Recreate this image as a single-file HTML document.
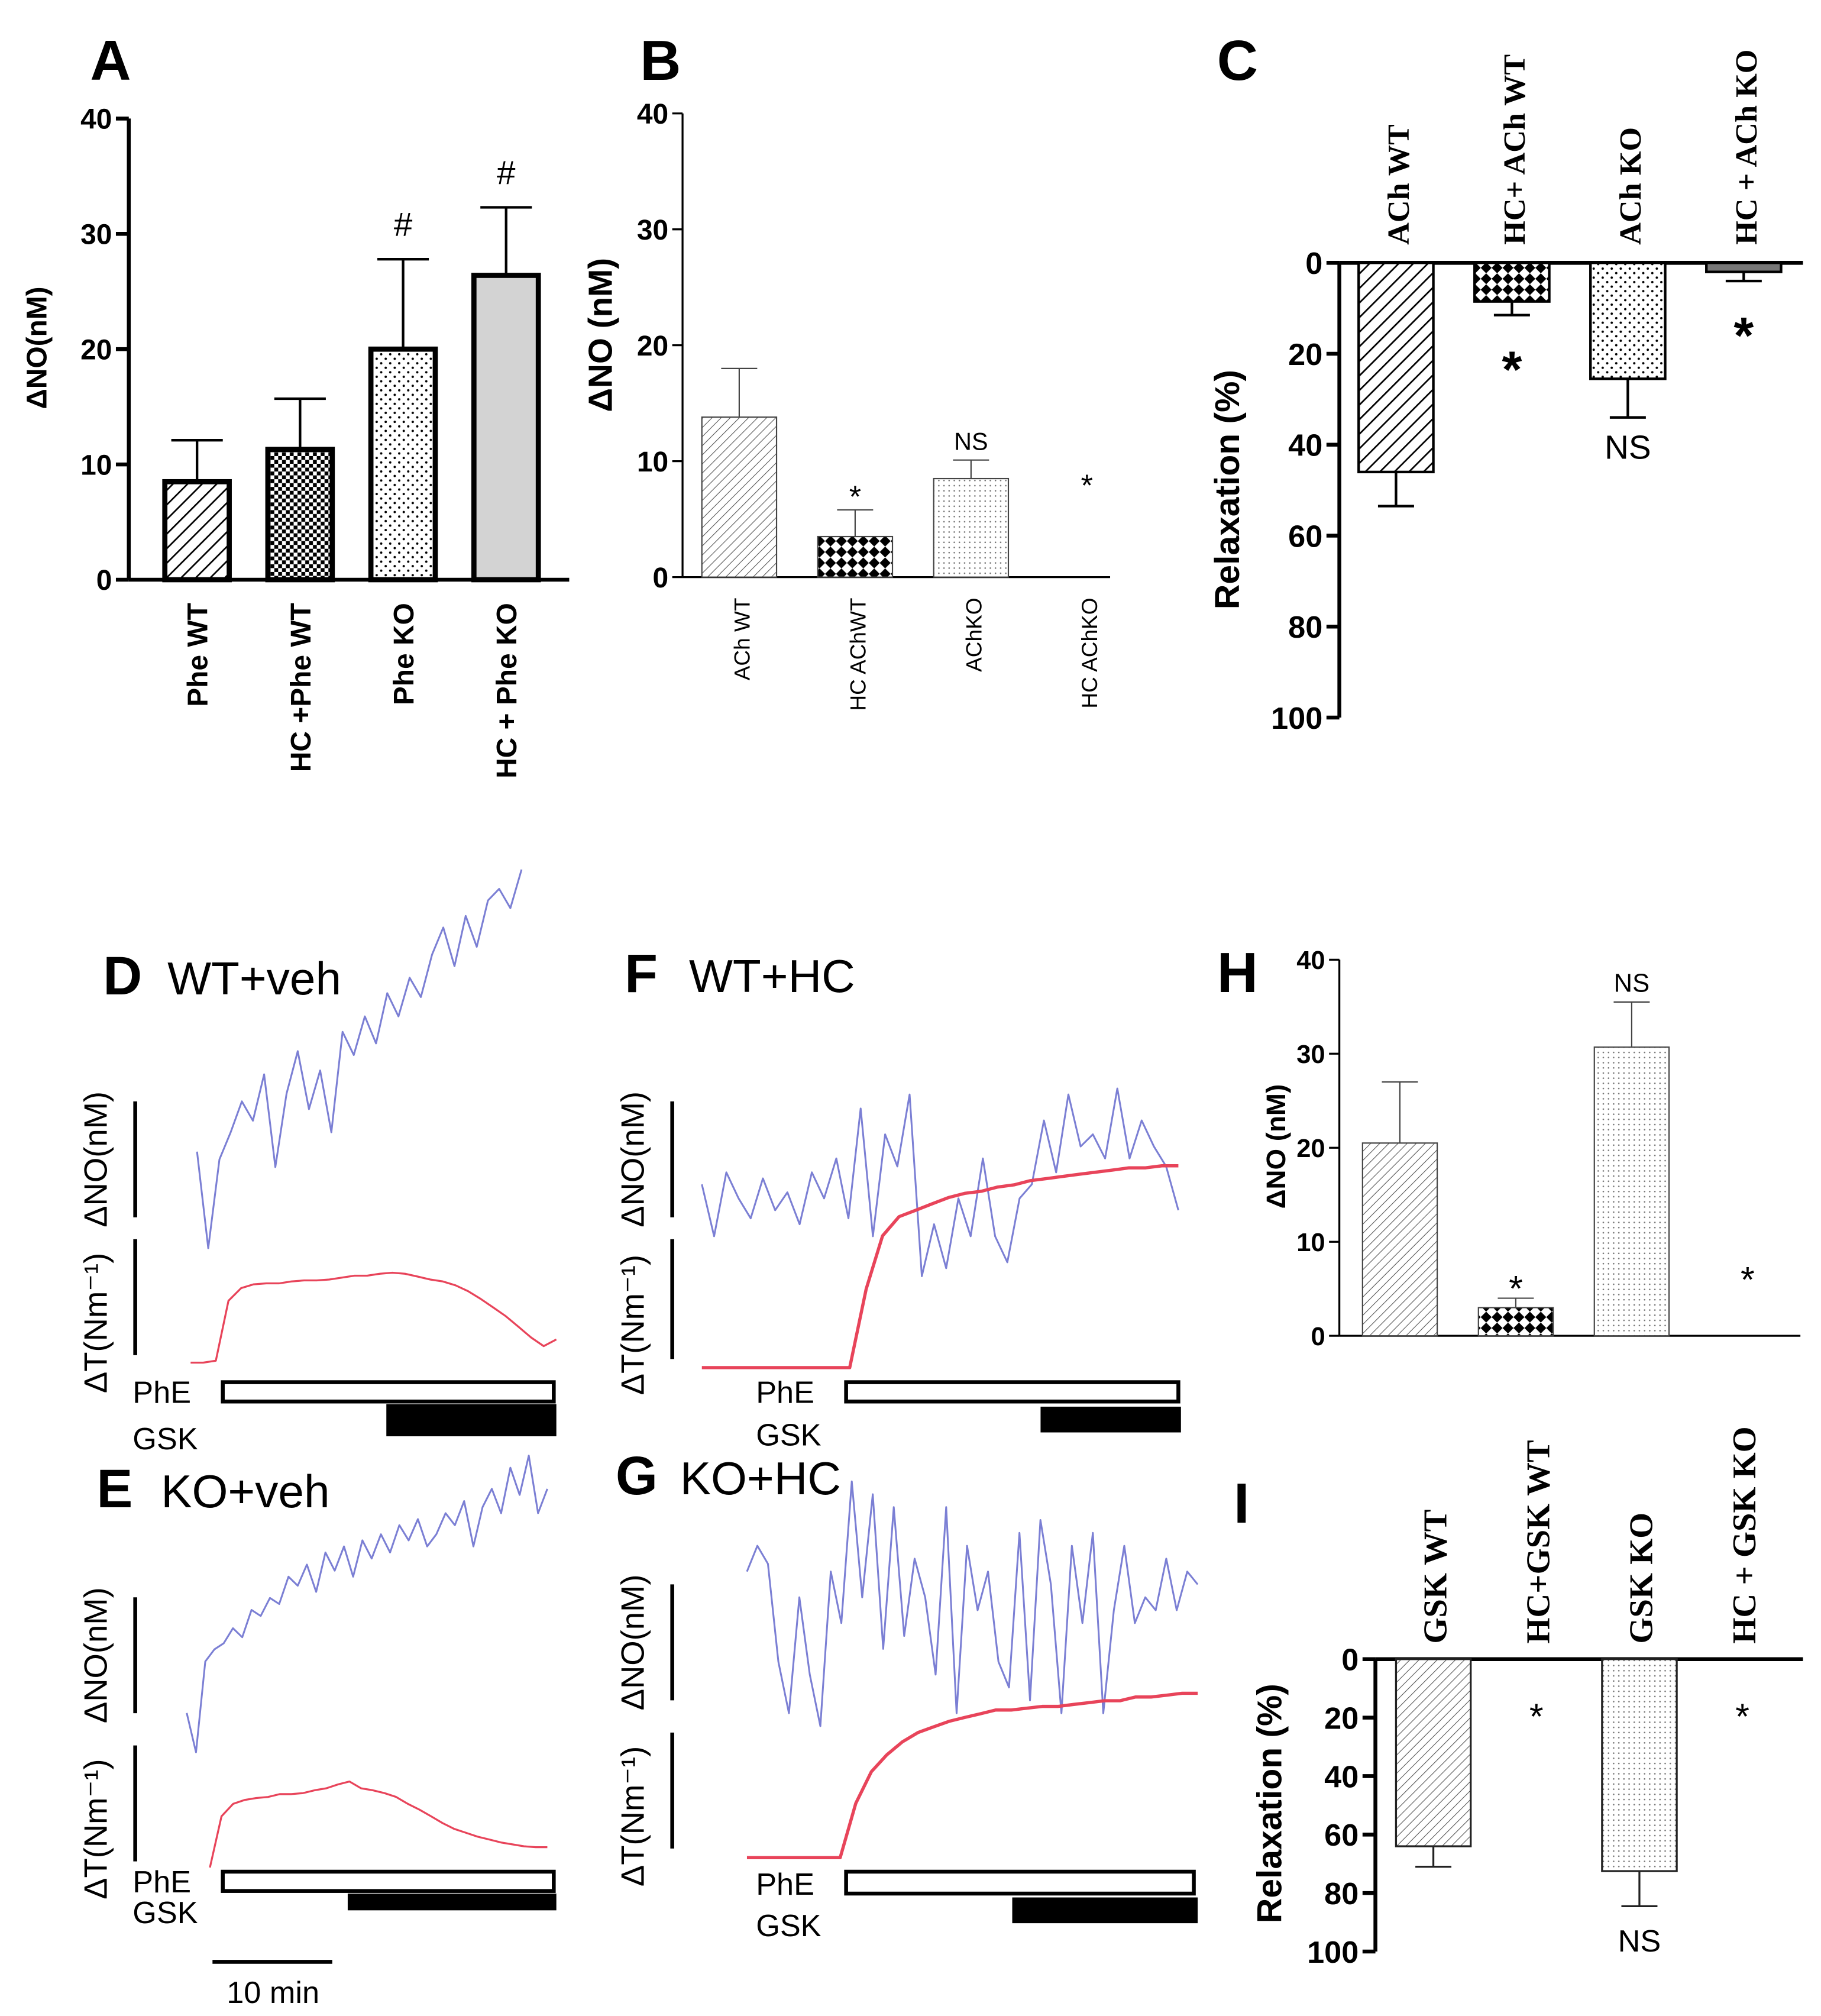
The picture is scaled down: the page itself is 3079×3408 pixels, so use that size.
<!DOCTYPE html>
<html><head><meta charset="utf-8"><style>
html,body{margin:0;padding:0;background:#fff;}
svg{display:block;}
text{font-family:"Liberation Sans",sans-serif;}
.serif{font-family:"Liberation Serif",serif;}
</style></head><body>
<svg id="fig" width="3079" height="3408" viewBox="0 0 1414 1565" xmlns="http://www.w3.org/2000/svg">
<defs>
<pattern id="hatch" patternUnits="userSpaceOnUse" width="8" height="8" patternTransform="rotate(45)"><rect width="8" height="8" fill="#fff"/><line x1="0" y1="0" x2="0" y2="8" stroke="#000" stroke-width="2.5"/></pattern>
<pattern id="hatchThin" patternUnits="userSpaceOnUse" width="5" height="5" patternTransform="rotate(45)"><rect width="5" height="5" fill="#fff"/><line x1="0" y1="0" x2="0" y2="5" stroke="#555" stroke-width="1"/></pattern>
<pattern id="check" patternUnits="userSpaceOnUse" width="6" height="6"><rect width="6" height="6" fill="#fff"/><rect width="3" height="3" fill="#000"/><rect x="3" y="3" width="3" height="3" fill="#000"/></pattern>
<pattern id="cross" patternUnits="userSpaceOnUse" width="12" height="12" patternTransform="rotate(45)"><rect width="12" height="12" fill="#fff"/><rect width="6" height="6" fill="#000"/><rect x="6" y="6" width="6" height="6" fill="#000"/></pattern>
<pattern id="dots" patternUnits="userSpaceOnUse" width="7" height="7"><rect width="7" height="7" fill="#fff"/><circle cx="2" cy="2" r="0.9" fill="#000"/><circle cx="5.5" cy="5.5" r="0.9" fill="#000"/></pattern>
<pattern id="dotsFine" patternUnits="userSpaceOnUse" width="4" height="4"><rect width="4" height="4" fill="#fff"/><circle cx="1" cy="1" r="0.6" fill="#777"/></pattern>
</defs>
<g id="root"></g>
</svg>
<script>
// ---------- data ----------
const catA = ["Phe WT","HC +Phe WT","Phe KO","HC + Phe KO"];
const valA = [8.5, 11.3, 20.0, 26.4];
const errA = [12.1, 15.7, 27.8, 32.3];
const sigA = ["","","#","#"];
const ticksA = [0,10,20,30,40];

const catB = ["ACh WT","HC AChWT","AChKO","HC AChKO"];
const valB = [13.8, 3.5, 8.5, 0];
const errB = [18.0, 5.8, 10.1, 0];
const sigB = ["","*","NS","*"];
const ticksB = [0,10,20,30,40];

const catC = ["ACh WT","HC+ ACh WT","ACh KO","HC + ACh KO"];
const valC = [46, 8.5, 25.5, 2];
const errC = [53.5, 11.5, 34, 4];
const sigC = ["","*","NS","*"];
const ticksC = [0,20,40,60,80,100];

const catH = ["GSK WT","HC+GSK WT","GSK KO","HC + GSK KO"];
const valH = [20.5, 3.0, 30.7, 0];
const errH = [27.0, 4.0, 35.5, 0];
const sigH = ["","*","NS","*"];
const ticksH = [0,10,20,30,40];

const catI = ["GSK WT","HC+GSK WT","GSK KO","HC + GSK KO"];
const valI = [64, 0, 72.5, 0];
const errI = [71, 0, 84.5, 0];
const sigI = ["","*","NS","*"];
const ticksI = [0,20,40,60,80,100];

const dBlue = [27,2,25,32,40,35,47,23,42,53,38,48,32,58,52,62,55,68,62,72,67,78,85,75,88,80,92,95,90,100];
const dRed = [3,3,5,67,80,84,85,85,87,88,88,89,91,93,93,95,96,95,92,89,87,83,77,69,60,51,40,29,20,27];
const fBlue = [52,26,58,45,35,55,39,48,32,58,45,65,35,90,26,77,61,97,6,32,10,45,26,65,26,13,45,52,84,58,97,71,77,65,100,65,84,71,61,39];
const fRed = [2,2,2,2,2,2,2,2,2,2,39,64,73,76,79,82,84,85,87,88,90,91,92,93,94,95,96,96,97,97];
const eBlue = [15,2,32,36,38,43,40,49,47,53,51,60,57,64,55,68,62,70,60,72,66,74,68,77,72,79,70,74,81,77,85,70,83,89,81,96,87,100,81,89];
const eRed = [7,60,73,77,79,80,83,83,84,87,89,93,96,89,87,84,80,73,67,60,53,47,43,39,36,33,31,29,28,28];
const gBlue = [65,75,68,30,10,55,25,5,65,45,100,55,95,35,90,40,70,55,25,90,10,75,50,65,30,20,80,15,85,60,10,75,45,80,10,50,75,45,55,50,70,50,65,60];
const gRed = [2,2,2,2,2,2,2,31,48,57,64,69,72,75,77,79,81,81,82,83,83,84,85,86,86,88,88,89,90,90];

// ---------- helpers ----------
const NS = "http://www.w3.org/2000/svg";
const root = document.getElementById("root");
function mk(tag, attrs, txt){
  const e = document.createElementNS(NS, tag);
  for (const k in attrs) e.setAttribute(k, attrs[k]);
  if (txt !== undefined) e.textContent = txt;
  root.appendChild(e);
  return e;
}
function lin(d0,d1,r0,r1){ return v => r0 + (v-d0)/(d1-d0)*(r1-r0); }

function yAxis(x, y, ticks, tickLen, fs, bold, sw){
  const a = mk("line",{x1:x,y1:y(ticks[0]),x2:x,y2:y(ticks[ticks.length-1]),stroke:"#000","stroke-width":sw});
  
  
  ticks.forEach(t=>{
    const l = mk("line",{x1:x-tickLen,y1:y(t),x2:x,y2:y(t),stroke:"#000","stroke-width":sw});
    
    
    const tx = mk("text",{x:x-tickLen-3,y:y(t)+fs*0.36,"font-size":fs,"text-anchor":"end","font-weight":bold?"bold":"normal"}, String(t));
    
    
  });
}

function bars(cfg){
  cfg.vals.forEach((v,i)=>{
    const cx = cfg.x0 + i*cfg.step;
    const y0 = cfg.y(0), y1 = cfg.y(v);
    if (v > 0){
      const r = mk("rect",{x:cx-cfg.w/2,y:Math.min(y0,y1),width:cfg.w,height:Math.abs(y1-y0),fill:cfg.fills[i],stroke:cfg.stroke||"#000","stroke-width":cfg.bw});
      
      
    }
    if (cfg.errs[i] > v){
      const ye = cfg.y(cfg.errs[i]);
      const el = mk("path",{d:`M${cx},${y1} L${cx},${ye} M${cx-cfg.cap},${ye} L${cx+cfg.cap},${ye}`,stroke:cfg.stroke||"#000","stroke-width":cfg.ew,fill:"none"});
      
      
    }
    const s = cfg.sig[i];
    if (s){
      const base = v>0 ? cfg.y(Math.max(cfg.errs[i],v)) : cfg.y(0);
      const sy = cfg.sigPos ? cfg.sigPos(i, base, s) : base - 12;
      const isStar = s==="*";
      const st = mk("text",{x:cx,y:sy,"font-size":isStar?cfg.starFs:cfg.sigFs,"text-anchor":"middle","font-weight":(cfg.sigBold&&isStar)?"bold":"normal"}, s);
      
      
    }
    const lx = cx + cfg.labOffX, ly = cfg.labY;
    const lt = mk("text",{x:lx,y:ly,"font-size":cfg.labFs,"text-anchor":cfg.labAnchor,"font-weight":cfg.labBold?"bold":"normal",transform:`rotate(-90 ${lx} ${ly})`,class:cfg.labSerif?"serif":""}, cfg.cats[i]);
    
    
  });
}

function trace(vals, x0, x1, top, bottom, color, sw, name){
  const x = lin(0, vals.length-1, x0, x1);
  const y = lin(0, 100, bottom, top);
  const d = vals.map((v,i)=>(i?"L":"M")+x(i).toFixed(1)+","+y(v).toFixed(1)).join(" ");
  const p = mk("path",{d:d,fill:"none",stroke:color,"stroke-width":sw,"stroke-linejoin":"round"});
  
  
}

function label(x,y,txt,fs,opts){
  opts = opts||{};
  const a = {x:x,y:y,"font-size":fs,"text-anchor":opts.anchor||"start","font-weight":opts.bold?"bold":"normal"};
  if (opts.rot) a.transform = `rotate(-90 ${x} ${y})`;
  if (opts.serif) a["class"]="serif";
  const t = mk("text",a,txt);
  return t;
}

// ---------- Panel A ----------
let t;
t = label(70,62,"A",44,{bold:true});  
const yA = lin(0,40,450,92);
yAxis(100, yA, ticksA, 10, 22, true, 3);
t = mk("line",{x1:100,y1:450,x2:442,y2:450,stroke:"#000","stroke-width":3});  
t = label(36,270,"ΔNO(nM)",22,{bold:true,rot:true,anchor:"middle"});  
bars({vals:valA,errs:errA,cats:catA,sig:sigA,x0:153,step:80,w:50,y:yA,fills:["url(#hatch)","url(#check)","url(#dots)","#d3d3d3"],bw:4,ew:2,cap:20,sigFs:26,starFs:30,sigBold:false,labOffX:8,labY:468,labFs:22,labAnchor:"end",labBold:true,sigPos:(i,b)=>b-18});

// ---------- Panel B ----------
t = label(497,62,"B",44,{bold:true});  
const yB = lin(0,40,448,88);
yAxis(530, yB, ticksB, 8, 22, true, 1.5);
t = mk("line",{x1:530,y1:448,x2:862,y2:448,stroke:"#000","stroke-width":1.5});  
t = label(475,260,"ΔNO (nM)",26,{bold:true,rot:true,anchor:"middle"});  
bars({vals:valB,errs:errB,cats:catB,sig:sigB,x0:574,step:90,w:58,y:yB,fills:["url(#hatchThin)","url(#cross)","url(#dotsFine)","#fff"],bw:1,stroke:"#444",ew:1,cap:14,sigFs:19,starFs:24,sigBold:false,labOffX:8,labY:464,labFs:17,labAnchor:"end",labBold:false,sigPos:(i,b,s)=> s==="*"? (i===3? 385 : b-2) : b-8});

// ---------- Panel C ----------
t = label(945,62,"C",44,{bold:true});  
const yC = lin(0,100,204,557);
yAxis(1040, yC, ticksC, 10, 24, true, 3);
t = mk("line",{x1:1040,y1:204,x2:1400,y2:204,stroke:"#000","stroke-width":3});  
t = label(962,380,"Relaxation (%)",27,{bold:true,rot:true,anchor:"middle"});  
bars({vals:valC,errs:errC,cats:catC,sig:sigC,x0:1084,step:90,w:58,y:yC,fills:["url(#hatch)","url(#cross)","url(#dots)","#777"],bw:2,ew:2,cap:14,sigFs:26,starFs:40,sigBold:true,labOffX:10,labY:190,labFs:24,labAnchor:"start",labBold:true,labSerif:true,sigPos:(i,b,s)=> s==="*"? b+56 : b+32});

// ---------- Panel H ----------
t = label(945,770,"H",44,{bold:true});  
const yH = lin(0,40,1037,745);
yAxis(1040, yH, ticksH, 8, 20, true, 1.5);
t = mk("line",{x1:1040,y1:1037,x2:1398,y2:1037,stroke:"#000","stroke-width":1.5});  
t = label(998,890,"ΔNO (nM)",21,{bold:true,rot:true,anchor:"middle"});  
bars({vals:valH,errs:errH,cats:["","","",""],sig:sigH,x0:1087,step:90,w:58,y:yH,fills:["url(#hatchThin)","url(#cross)","url(#dotsFine)","#fff"],bw:1,stroke:"#444",ew:1,cap:14,sigFs:20,starFs:28,sigBold:false,labOffX:0,labY:0,labFs:1,labAnchor:"end",sigPos:(i,b,s)=> s==="*"? (i===3? 1003 : b+2) : b-8});

// ---------- Panel I ----------
t = label(958,1182,"I",44,{bold:true});  
const yI = lin(0,100,1288,1515);
yAxis(1068, yI, ticksI, 10, 24, true, 3);
t = mk("line",{x1:1068,y1:1288,x2:1400,y2:1288,stroke:"#000","stroke-width":3});  
t = label(995,1400,"Relaxation (%)",27,{bold:true,rot:true,anchor:"middle"});  
bars({vals:valI,errs:errI,cats:catI,sig:sigI,x0:1113,step:80,w:58,y:yI,fills:["url(#hatchThin)","#fff","url(#dotsFine)","#fff"],bw:1.5,stroke:"#222",ew:1.5,cap:14,sigFs:24,starFs:28,sigBold:false,labOffX:10,labY:1276,labFs:26,labAnchor:"start",labBold:true,labSerif:true,sigPos:(i,b,s)=> s==="*"? 1342 : 1515});

// ---------- traces ----------
function tracePanel(o){
  t = label(o.lx,o.ly,o.letter,42,{bold:true});  
  t = label(o.lx+50,o.ly,o.title,36);  
  trace(o.blue, o.bx0, o.bx1, o.btop, o.bbot, "#7b7fd4", 1.4, "no-trace");
  trace(o.red, o.rx0, o.rx1, o.rtop, o.rbot, "#e8445a", o.rsw, "tension-trace");
  t = mk("line",{x1:o.sx,y1:o.s1[0],x2:o.sx,y2:o.s1[1],stroke:"#000","stroke-width":3});  
  t = mk("line",{x1:o.sx,y1:o.s2[0],x2:o.sx,y2:o.s2[1],stroke:"#000","stroke-width":3});  
  t = label(o.sx-22,(o.s1[0]+o.s1[1])/2,"ΔNO(nM)",25,{rot:true,anchor:"middle"});  
  t = label(o.sx-22,(o.s2[0]+o.s2[1])/2+20,"ΔT(Nm⁻¹)",25,{rot:true,anchor:"middle"});  
  t = mk("rect",{x:o.p[0],y:o.p[2],width:o.p[1]-o.p[0],height:o.p[3]-o.p[2],fill:"#fff",stroke:"#000","stroke-width":3});  
  t = mk("rect",{x:o.g[0],y:o.g[2],width:o.g[1]-o.g[0],height:o.g[3]-o.g[2],fill:"#000"});  
  t = label(o.tx,o.p[3]+1,"PhE",24);  
  t = label(o.tx,o.g[3]+10,"GSK",24);  
}
tracePanel({letter:"D",title:"WT+veh",lx:80,ly:772,blue:dBlue,bx0:153,bx1:405,btop:675,bbot:975,red:dRed,rx0:148,rx1:432,rtop:985,rbot:1060,rsw:1.5,sx:105,s1:[855,945],s2:[962,1052],p:[173,430,1073,1088],g:[300,432,1090,1115],tx:103});
tracePanel({letter:"F",title:"WT+HC",lx:485,ly:770,blue:fBlue,bx0:545,bx1:915,btop:845,bbot:1000,red:fRed,rx0:545,rx1:915,rtop:900,rbot:1065,rsw:2.5,sx:522,s1:[855,945],s2:[962,1055],p:[657,915,1073,1088],g:[808,917,1092,1112],tx:587});
tracePanel({letter:"E",title:"KO+veh",lx:75,ly:1170,blue:eBlue,bx0:145,bx1:425,btop:1130,bbot:1365,red:eRed,rx0:163,rx1:425,rtop:1380,rbot:1455,rsw:1.5,sx:105,s1:[1240,1330],s2:[1355,1445],p:[173,430,1453,1468],g:[270,432,1470,1483],tx:103});
tracePanel({letter:"G",title:"KO+HC",lx:478,ly:1160,blue:gBlue,bx0:580,bx1:930,btop:1150,bbot:1350,red:gRed,rx0:580,rx1:930,rtop:1300,rbot:1445,rsw:2.5,sx:522,s1:[1230,1320],s2:[1345,1435],p:[657,927,1453,1470],g:[786,930,1473,1493],tx:587});

t = mk("line",{x1:165,y1:1523,x2:258,y2:1523,stroke:"#000","stroke-width":3});  
t = label(212,1555,"10 min",24,{anchor:"middle"});  
</script>
</body></html>
